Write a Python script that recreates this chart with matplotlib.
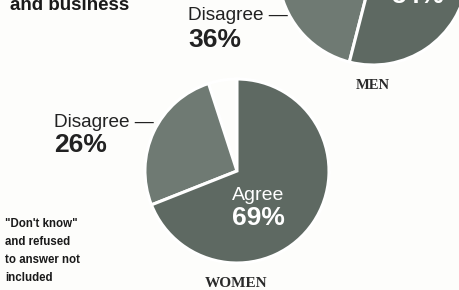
import matplotlib
matplotlib.use("Agg")
import matplotlib.pyplot as plt

# survey values (percent)
groups = ["MEN", "WOMEN"]
dont_know = [10, 5]
disagree = [36, 26]
agree = [54, 69]

W, H = 459, 290
fig = plt.figure(figsize=(W / 100, H / 100), dpi=100, facecolor="#fdfdfb")
ax = fig.add_axes([0, 0, 1, 1])

c_dis = "#6f7a73"
c_agr = "#5e6962"

# pie centres / radii in pixel space (y measured from top)
centres = [(373, -30), (237, 171)]
radii = [95, 92]
explode_dis = [0.02, 0.045]

for i, g in enumerate(groups):
    cx, cy = centres[i]
    ax.pie([dont_know[i], disagree[i], agree[i]],
           colors=["none", c_dis, c_agr],
           explode=[0, explode_dis[i], 0],
           startangle=90, counterclock=True,
           center=(cx, H - cy), radius=radii[i],
           wedgeprops=dict(edgecolor="white", linewidth=2.2))

ax.set_xlim(0, W)
ax.set_ylim(0, H)
ax.set_aspect("equal")
ax.axis("off")

sans = "Liberation Sans"

def txt(x, y, s, **kw):
    ax.text(x, H - y, s, family=sans, va="baseline", ha="left", **kw)

# cropped headline
txt(10, 10, "and business", fontsize=13.5, fontweight="bold", color="#1a1a1a")

# men labels
txt(188, 20, "Disagree —", fontsize=13.7, color="#222222")
txt(188, 47, f"{disagree[0]}%", fontsize=19, fontweight="bold", color="#222222")
txt(391, 3, f"Agree\n{agree[0]}%", fontsize=19, fontweight="bold", color="white")

# women labels
txt(54, 127, "Disagree —", fontsize=13.7, color="#222222")
txt(54, 152, f"{disagree[1]}%", fontsize=19, fontweight="bold", color="#222222")
txt(232, 200, "Agree", fontsize=14, color="white")
txt(232, 225, f"{agree[1]}%", fontsize=19, fontweight="bold", color="white")

# group captions
ax.text(373, H - 89, groups[0], family="Liberation Serif", fontsize=10.5,
        fontweight="bold", color="#2a2a2a", ha="center", va="baseline")
ax.text(236, H - 287, groups[1], family="Liberation Serif", fontsize=11,
        fontweight="bold", color="#2a2a2a", ha="center", va="baseline")

# footnote (baseline of last line)
ax.text(5, H - 281, "\"Don't know\"\nand refused\nto answer not\nincluded",
        family=sans, fontsize=8.3, fontweight="bold", color="#1a1a1a",
        ha="left", va="baseline", linespacing=1.65)

fig.savefig("out.png", dpi=100, facecolor=fig.get_facecolor())
